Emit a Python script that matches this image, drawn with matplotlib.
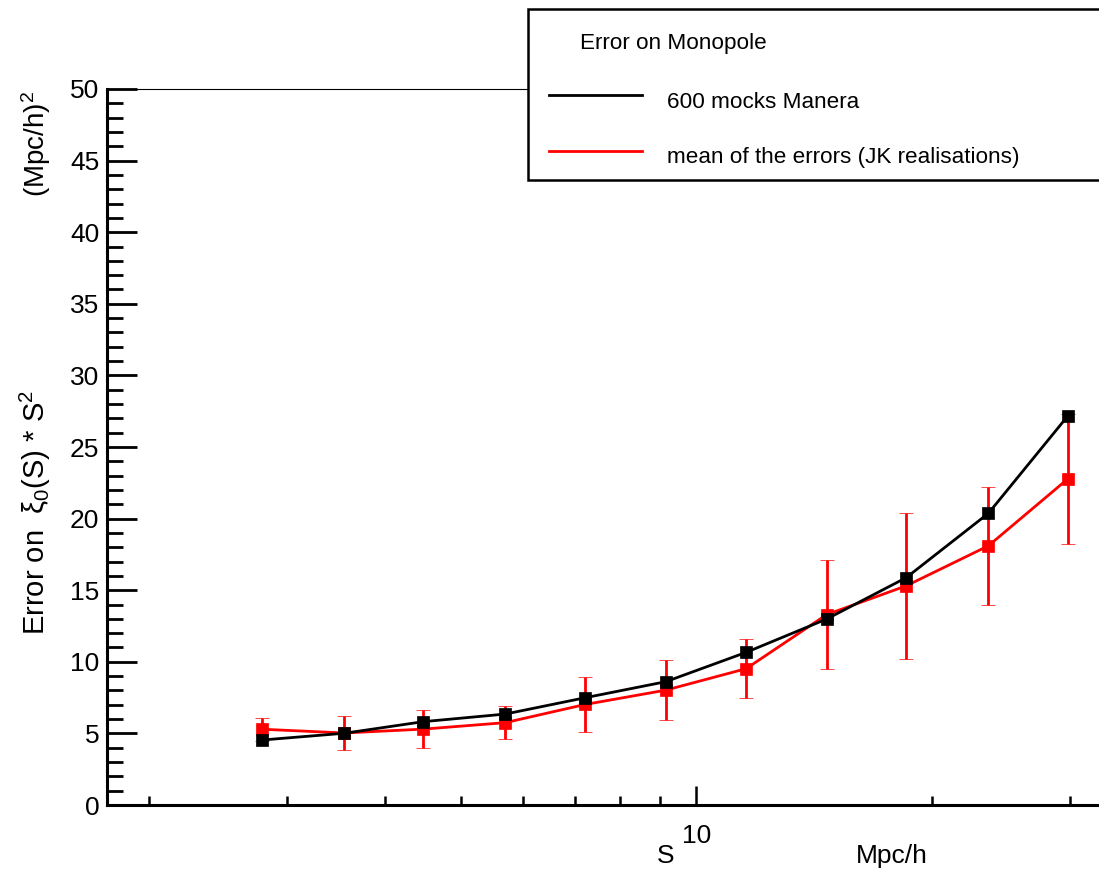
import matplotlib
matplotlib.use("Agg")
import matplotlib.pyplot as plt
from matplotlib.ticker import FixedLocator, NullFormatter, FixedFormatter, MultipleLocator
from matplotlib.patches import Rectangle
from matplotlib.lines import Line2D

# ---- data ----
s_values = [2.79, 3.55, 4.48, 5.70, 7.21, 9.14, 11.58, 14.68, 18.54, 23.62, 29.83]
mocks_err = [4.54, 5.01, 5.82, 6.35, 7.49, 8.61, 10.66, 12.99, 15.87, 20.37, 27.16]
jk_mean = [5.29, 5.03, 5.30, 5.75, 7.02, 8.02, 9.52, 13.3, 15.3, 18.1, 22.77]
jk_spread = [0.82, 1.19, 1.34, 1.13, 1.92, 2.10, 2.07, 3.78, 5.08, 4.13, 4.56]

legend_title = "Error on Monopole"
label_mocks = "600 mocks Manera"
label_jk = "mean of the errors (JK realisations)"
y_ticks = [0, 5, 10, 15, 20, 25, 30, 35, 40, 45, 50]
x_major = [10]
x_minor = [2, 3, 4, 5, 6, 7, 8, 9, 20, 30]

plt.rcParams['font.family'] = ['Liberation Sans', 'DejaVu Sans']
plt.rcParams['mathtext.fontset'] = 'custom'
plt.rcParams['mathtext.rm'] = 'Liberation Sans'
plt.rcParams['mathtext.it'] = 'Liberation Sans:italic'
plt.rcParams['mathtext.bf'] = 'Liberation Sans:bold'

W, H = 1099, 871
fig = plt.figure(figsize=(W / 100, H / 100), dpi=100)

def fx(px):
    return px / W

def fy(py):
    return 1 - py / H

left, right, top, bottom = 107, 1112, 89, 805
ax = fig.add_axes([fx(left), fy(bottom), fx(right) - fx(left), (bottom - top) / H])

ax.set_xscale('log')
ax.set_xlim(1.766, 33.98)
ax.set_ylim(0, 50)

ax.errorbar(s_values, jk_mean, yerr=jk_spread, color='#ff0000', marker='s', ms=8,
            mew=0.5, lw=2.0, elinewidth=2.0, capsize=5, capthick=2.5, zorder=3)
ax.plot(s_values, mocks_err, color='black', marker='s', ms=8, mew=0.5, lw=2.0, zorder=4)

# spines
for side in ['left', 'bottom']:
    ax.spines[side].set_linewidth(2.2)
ax.spines['top'].set_linewidth(0.8)
ax.spines['right'].set_linewidth(0.8)

# ticks
ax.yaxis.set_major_locator(FixedLocator(y_ticks))
ax.yaxis.set_minor_locator(MultipleLocator(1))
ax.tick_params(axis='y', which='major', direction='in', length=21.5, width=2.0,
               labelsize=19, pad=5.5, right=False)
ax.tick_params(axis='y', which='minor', direction='in', length=11.5, width=2.0, right=False)
ax.xaxis.set_major_locator(FixedLocator(x_major))
ax.xaxis.set_major_formatter(FixedFormatter(['10']))
ax.xaxis.set_minor_locator(FixedLocator(x_minor))
ax.xaxis.set_minor_formatter(NullFormatter())
ax.tick_params(axis='x', which='major', direction='in', length=13.5, width=1.8,
               labelsize=19, pad=14, top=False)
ax.tick_params(axis='x', which='minor', direction='in', length=6.5, width=1.8, top=False)

# axis titles
fig.text(fx(45), fy(635), r'Error on  ξ$_0$(S) * S$^2$', rotation=90,
         rotation_mode='anchor', ha='left', va='baseline', fontsize=21)
fig.text(fx(45), fy(197), r'(Mpc/h)$^2$', rotation=90,
         rotation_mode='anchor', ha='left', va='baseline', fontsize=20)
fig.text(fx(657), fy(863), 'S', ha='left', va='baseline', fontsize=19)
fig.text(fx(856), fy(863), 'Mpc/h', ha='left', va='baseline', fontsize=19)

# legend box (drawn manually, ROOT style)
box = Rectangle((fx(528), fy(180)), fx(1115) - fx(528), (180 - 9) / H,
                transform=fig.transFigure, facecolor='white', edgecolor='black',
                linewidth=1.8, zorder=10)
fig.add_artist(box)
fig.text(fx(580), fy(49), legend_title, ha='left', va='baseline', fontsize=16.2, zorder=11)
fig.add_artist(Line2D([fx(549), fx(642)], [fy(95), fy(95)], transform=fig.transFigure,
                      color='black', lw=2.0, zorder=11))
fig.text(fx(667), fy(108), label_mocks, ha='left', va='baseline', fontsize=16.2, zorder=11)
fig.add_artist(Line2D([fx(549), fx(642)], [fy(151), fy(151)], transform=fig.transFigure,
                      color='#ff0000', lw=2.0, zorder=11))
fig.text(fx(667), fy(163), label_jk, ha='left', va='baseline', fontsize=16.2, zorder=11)

fig.savefig('out.png', dpi=100)
